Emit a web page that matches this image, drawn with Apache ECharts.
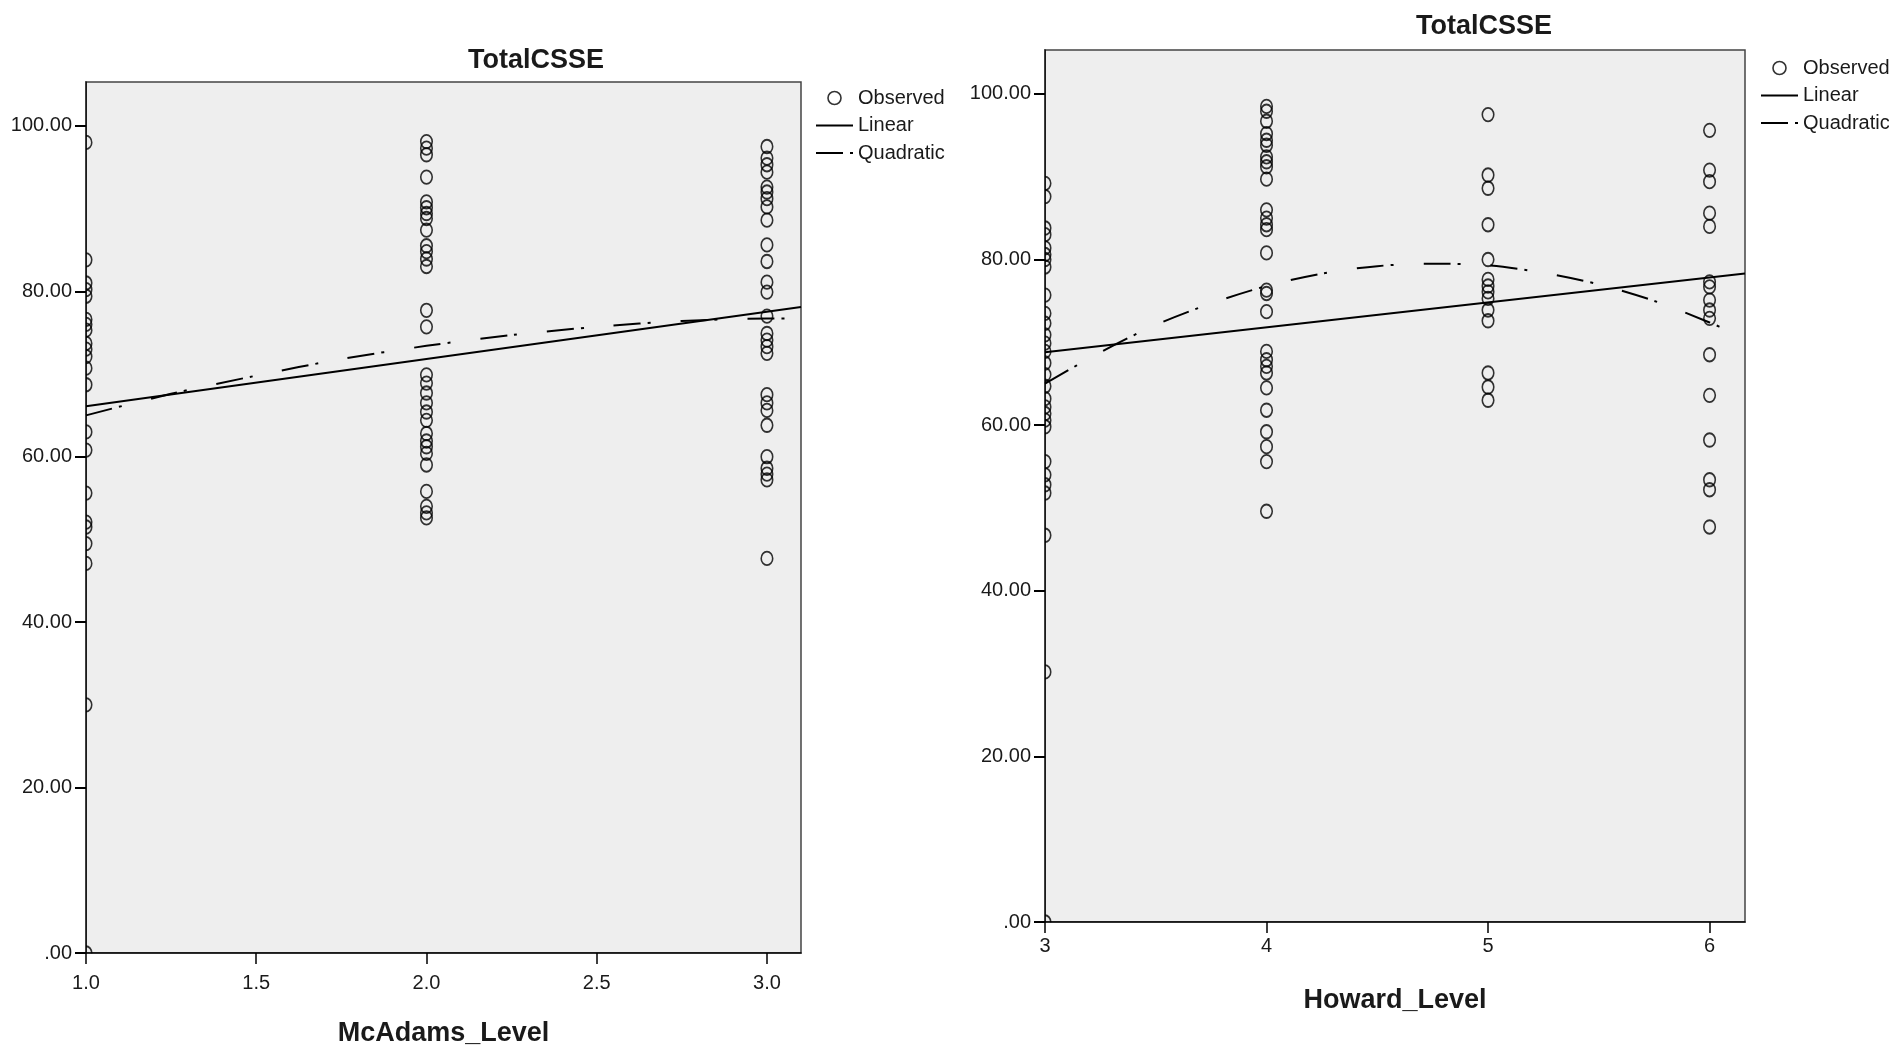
<!DOCTYPE html>
<html lang="en">
<head>
<meta charset="UTF-8">
<title>TotalCSSE</title>
<script src="https://cdn.jsdelivr.net/npm/echarts@6/dist/echarts.min.js"></script>
<style>
  html, body { margin: 0; padding: 0; background: #fff; }
  #chart { width: 1889px; height: 1045px; }
</style>
</head>
<body>
<div id="chart"></div>
<script>
// ---- data ----
// left panel: TotalCSSE by McAdams_Level
const mcadamsLevels = [1, 2, 3];
const mcadamsLevel1 = [98.0, 83.8, 81.0, 80.2, 79.4, 76.6, 76.0, 75.3, 73.7, 73.0, 72.1, 70.7, 68.7,
  63.0, 60.8, 55.6, 52.1, 51.5, 49.5, 47.1, 30.0, 0];
const mcadamsLevel2 = [98.1, 97.3, 96.5, 93.8, 90.8, 90.1, 89.4, 88.8, 87.4, 85.5, 84.8, 83.9, 83.0,
  77.7, 75.7, 69.9, 68.9, 67.7, 66.5, 65.4, 64.4, 62.8, 61.9, 61.2, 60.4, 59.0, 55.8, 54.0, 53.2, 52.6];
const mcadamsLevel3 = [97.5, 96.1, 95.3, 94.4, 92.6, 92.0, 91.2, 90.2, 88.6, 85.6, 83.6, 81.1, 79.9,
  77.0, 74.9, 74.1, 73.3, 72.5, 67.5, 66.5, 65.6, 63.8, 60.0, 58.6, 57.9, 57.2, 47.7];
const mcadamsLinearX = [1, 3.1];
const mcadamsLinearY = [66.1, 78.1];
const mcadamsQuadX = [1, 1.25, 1.5, 1.75, 2, 2.25, 2.5, 2.75, 3, 3.1];
const mcadamsQuadY = [65.0, 67.6, 69.8, 71.8, 73.4, 74.7, 75.7, 76.4, 76.7, 76.7];
const mcadamsTicks = [1, 1.5, 2, 2.5, 3];

// right panel: TotalCSSE by Howard_Level
const howardLevels = [3, 4, 5, 6];
const howardLevel3 = [89.2, 87.6, 83.8, 83.0, 81.4, 80.6, 80.0, 79.1, 75.7, 73.5, 72.3, 70.9, 69.9,
  68.9, 67.5, 66.1, 64.7, 63.2, 62.2, 61.4, 60.6, 59.8, 55.6, 54.0, 52.8, 51.8, 46.7, 30.2, 0];
const howardLevel4 = [98.5, 97.9, 96.7, 95.2, 94.4, 93.8, 92.4, 91.8, 91.2, 89.7, 86.0, 85.0, 84.2,
  83.6, 80.8, 76.3, 75.9, 73.7, 68.9, 67.9, 67.1, 66.3, 64.5, 61.8, 59.2, 57.4, 55.6, 49.6];
const howardLevel5 = [97.5, 90.2, 88.6, 84.2, 80.0, 77.6, 76.8, 76.1, 75.3, 73.9, 72.6, 66.3, 64.6, 63.0];
const howardLevel6 = [95.6, 90.8, 89.4, 85.6, 84.0, 77.3, 76.7, 75.1, 73.9, 72.9, 68.5, 63.6, 58.2,
  53.4, 52.2, 47.7];
const howardLinearX = [3, 6.16];
const howardLinearY = [68.8, 78.3];
const howardQuadX = [3, 3.25, 3.5, 3.75, 4, 4.25, 4.5, 4.75, 5, 5.25, 5.5, 5.75, 6, 6.1];
const howardQuadY = [65.0, 68.8, 72.1, 74.7, 76.8, 78.3, 79.2, 79.5, 79.3, 78.4, 77.0, 75.0, 72.4, 71.2];
const howardTicks = [3, 4, 5, 6];

const yTicks = [0, 20, 40, 60, 80, 100];

// ---- layout ----
const FONT = '"Liberation Sans", Arial, sans-serif';
const INK = '#1a1a1a';
const gridL = { left: 86, top: 82, width: 715, height: 871 };
const gridR = { left: 1045, top: 50, width: 700, height: 872 };
const quadDash = [27, 7, 3, 30];

function column(x, values) {
  return values.map(v => [x, v]);
}
function pairs(xs, ys) {
  return xs.map((x, i) => [x, ys[i]]);
}

function makeGrid(g) {
  return Object.assign({
    show: true, backgroundColor: '#eeeeee', borderColor: '#444', borderWidth: 1.5,
    outerBoundsMode: 'none'
  }, g);
}

function makeYAxis(gridIndex) {
  return {
    type: 'value', gridIndex: gridIndex, min: 0, max: 105.3, interval: 20, z: 4,
    axisLine: { show: true, onZero: false, lineStyle: { color: '#000', width: 1.5 } },
    axisTick: { show: true, length: 11, customValues: yTicks, lineStyle: { color: '#000', width: 2 } },
    axisLabel: {
      customValues: yTicks, margin: 14, color: INK, fontSize: 20, fontFamily: FONT,
      formatter: v => v === 0 ? '.00' : v.toFixed(2)
    },
    splitLine: { show: false }
  };
}

function makeXAxis(gridIndex, min, max, ticks, name, gap, margin, digits) {
  return {
    type: 'value', gridIndex: gridIndex, min: min, max: max, z: 4,
    name: name, nameLocation: 'middle', nameGap: gap,
    nameTextStyle: { fontSize: 27, fontWeight: 'bold', fontFamily: FONT, color: INK },
    axisLine: { show: true, onZero: false, lineStyle: { color: '#000', width: 1.5 } },
    axisTick: { show: true, length: 11, customValues: ticks, lineStyle: { color: '#000', width: 1.5 } },
    axisLabel: {
      customValues: ticks, margin: margin, color: INK, fontSize: 20, fontFamily: FONT,
      formatter: v => v.toFixed(digits)
    },
    splitLine: { show: false }
  };
}

function observed(idx, data) {
  return {
    name: 'Observed', type: 'scatter', xAxisIndex: idx, yAxisIndex: idx, data: data,
    symbol: 'circle', symbolSize: [11.5, 13.5],
    itemStyle: { color: 'rgba(0,0,0,0)', borderColor: '#000', borderWidth: 1.7 },
    emphasis: { disabled: true }
  };
}

function fitLine(idx, name, data, dashed) {
  return {
    name: name, type: 'line', xAxisIndex: idx, yAxisIndex: idx, data: data,
    symbol: 'none', smooth: dashed ? 0.3 : false,
    itemStyle: { color: '#000' },
    lineStyle: { color: '#000', width: 2, type: dashed ? quadDash : 'solid' },
    emphasis: { disabled: true }
  };
}

function makeLegend(left, top) {
  return {
    orient: 'vertical', left: left, top: top, itemWidth: 37, itemHeight: 13, itemGap: 7.5,
    selectedMode: false,
    textStyle: { fontSize: 20, fontFamily: FONT, color: INK },
    data: [
      { name: 'Observed', icon: 'circle',
        itemStyle: { color: 'rgba(0,0,0,0)', borderColor: '#000', borderWidth: 1.6 } },
      { name: 'Linear', icon: 'path://M0,0H37V2.2H0Z',
        itemStyle: { color: '#000', borderWidth: 0 } },
      { name: 'Quadratic', icon: 'path://M0,0H27V2.2H0Z M34,0H37V2.2H34Z',
        itemStyle: { color: '#000', borderWidth: 0 } }
    ]
  };
}

// white strips just outside the plot so edge circles look clipped, axes stay on top
function masks(g) {
  return [
    { type: 'rect', z: 3, silent: true, shape: { x: g.left - 9, y: g.top, width: 9, height: g.height + 10 }, style: { fill: '#fff' } },
    { type: 'rect', z: 3, silent: true, shape: { x: g.left, y: g.top + g.height + 0.5, width: g.width, height: 10 }, style: { fill: '#fff' } }
  ];
}

function title(x, y) {
  return {
    type: 'text', x: x, y: y, z: 10, silent: true,
    style: { text: 'TotalCSSE', fill: INK, font: 'bold 27px ' + FONT, textAlign: 'center', textVerticalAlign: 'middle' }
  };
}

const mcadamsObserved = [].concat(
  column(mcadamsLevels[0], mcadamsLevel1),
  column(mcadamsLevels[1], mcadamsLevel2),
  column(mcadamsLevels[2], mcadamsLevel3)
);
const howardObserved = [].concat(
  column(howardLevels[0], howardLevel3),
  column(howardLevels[1], howardLevel4),
  column(howardLevels[2], howardLevel5),
  column(howardLevels[3], howardLevel6)
);

const chart = echarts.init(document.getElementById('chart'), null, { renderer: 'canvas' });
chart.setOption({
  animation: false,
  backgroundColor: '#fff',
  grid: [makeGrid(gridL), makeGrid(gridR)],
  xAxis: [
    makeXAxis(0, 1, 3.1, mcadamsTicks, 'McAdams_Level', 67, 20, 1),
    makeXAxis(1, 3, 6.16, howardTicks, 'Howard_Level', 65, 14, 0)
  ],
  yAxis: [makeYAxis(0), makeYAxis(1)],
  legend: [makeLegend(811, 83), makeLegend(1756, 53)],
  graphic: [].concat(masks(gridL), masks(gridR), [title(536, 61), title(1484, 27)]),
  series: [
    observed(0, mcadamsObserved),
    fitLine(0, 'Linear', pairs(mcadamsLinearX, mcadamsLinearY), false),
    fitLine(0, 'Quadratic', pairs(mcadamsQuadX, mcadamsQuadY), true),
    observed(1, howardObserved),
    fitLine(1, 'Linear', pairs(howardLinearX, howardLinearY), false),
    fitLine(1, 'Quadratic', pairs(howardQuadX, howardQuadY), true)
  ]
});
</script>
</body>
</html>
